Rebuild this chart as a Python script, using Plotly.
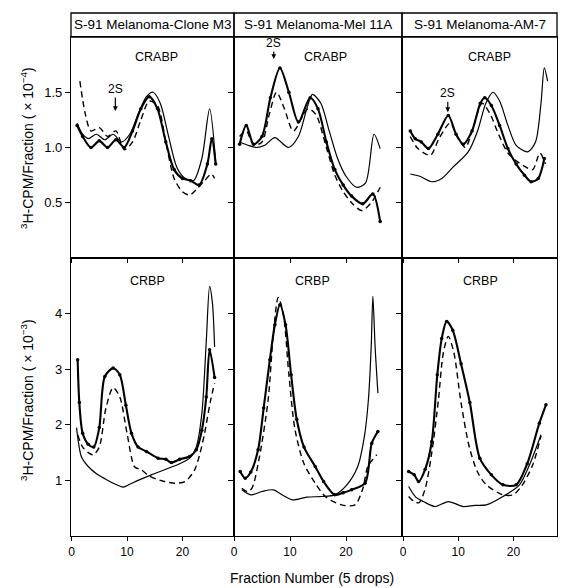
import plotly.graph_objects as go
from plotly.subplots import make_subplots

# ---------------- data ----------------
panel_titles = ["S-91 Melanoma-Clone M3", "S-91 Melanoma-Mel 11A", "S-91 Melanoma-AM-7"]
x_ticks = [0, 10, 20]
top_yticks = [0.5, 1.0, 1.5]
bot_yticks = [1, 2, 3, 4]

# Top row (CRABP, x10^-4)
m3_top_dot_x = [1, 2, 3.5, 5, 6.5, 8, 9.5, 11, 12.5, 14, 15.5, 17, 18.5, 20, 21.5, 23, 24.5, 25.3, 26]
m3_top_dot_y = [1.2, 1.1, 1.0, 1.06, 1.0, 1.07, 1.0, 1.15, 1.35, 1.46, 1.35, 1.05, 0.8, 0.72, 0.7, 0.66, 0.85, 1.08, 0.85]
m3_top_sol_x = [1, 2, 3, 4.5, 6, 7.5, 9, 10.5, 12, 13.5, 14.7, 16, 17.5, 19, 20.5, 22, 23.5, 24.9, 26]
m3_top_sol_y = [1.22, 1.12, 1.08, 1.12, 1.07, 1.12, 1.05, 1.12, 1.3, 1.46, 1.5, 1.4, 1.1, 0.82, 0.72, 0.7, 0.9, 1.35, 0.87]
m3_top_dash_x = [1.5, 2.5, 3.5, 5, 6.5, 8, 9.5, 11, 12.5, 14, 15.5, 17, 18.5, 20, 21.3, 22.5, 24, 25.2, 25.8]
m3_top_dash_y = [1.6, 1.3, 1.15, 1.18, 1.1, 1.15, 0.98, 1.05, 1.25, 1.42, 1.38, 1.05, 0.72, 0.6, 0.57, 0.62, 0.7, 0.76, 0.72]

m11_top_dot_x = [1, 2.2, 3.5, 5, 6.5, 8.2, 9.8, 11.5, 13.6, 15, 16.5, 18, 19.5, 21, 23, 24.8, 26.1]
m11_top_dot_y = [1.03, 1.2, 1.03, 1.1, 1.45, 1.72, 1.5, 1.23, 1.45, 1.35, 1.05, 0.8, 0.66, 0.56, 0.49, 0.58, 0.33]
m11_top_dash_x = [1, 2.2, 3.5, 5, 6.3, 7.6, 9, 10.6, 13.2, 14.6, 16.5, 18, 19.5, 21, 22.8, 24.5, 26.1]
m11_top_dash_y = [1.1, 1.15, 1.02, 1.05, 1.3, 1.5, 1.35, 1.15, 1.35, 1.3, 1.0, 0.75, 0.6, 0.5, 0.43, 0.5, 0.64]
m11_top_sol_x = [1, 2.5, 4, 5.5, 7.3, 9.7, 11.5, 13, 14, 15.5, 17, 18.5, 20, 21.9, 23.5, 25, 26.1]
m11_top_sol_y = [1.05, 1.02, 1.0, 1.02, 1.09, 1.0, 1.1, 1.35, 1.48, 1.4, 1.15, 0.9, 0.74, 0.64, 0.68, 1.12, 0.99]

am7_top_dot_x = [1.3, 2.2, 3.3, 4.6, 6.3, 8.2, 9.6, 10.9, 12.5, 14, 14.8, 16, 17.5, 19, 20.5, 22, 23.2, 24.5, 25.6]
am7_top_dot_y = [1.15, 1.08, 1.05, 0.99, 1.12, 1.29, 1.12, 1.03, 1.15, 1.4, 1.45, 1.38, 1.2, 0.99, 0.85, 0.75, 0.69, 0.72, 0.9]
am7_top_dash_x = [1.3, 2.5, 3.8, 5, 6.5, 8.5, 10, 11.3, 12.8, 14.3, 15.8, 17.3, 19, 20.5, 22, 23.5, 24.8, 25.8]
am7_top_dash_y = [1.1, 1.0, 0.95, 0.93, 1.08, 1.22, 1.08, 1.0, 1.2, 1.4, 1.3, 1.12, 0.95, 0.88, 0.83, 0.8, 0.95, 0.85]
am7_top_sol_x = [1.3, 3, 5.2, 7, 9, 11.8, 13.5, 15, 16.3, 17.5, 19, 20.5, 22.6, 24, 25, 25.6, 26.2]
am7_top_sol_y = [0.76, 0.74, 0.69, 0.72, 0.82, 0.96, 1.15, 1.4, 1.5, 1.42, 1.2, 1.02, 0.96, 1.05, 1.4, 1.72, 1.6]

# Bottom row (CRBP, x10^-3)
m3_bot_dot_x = [1.1, 1.4, 2, 3, 4, 5, 6, 7.5, 8.7, 9.8, 10.8, 12, 13.5, 15.6, 17, 18, 19.5, 21.3, 22.5, 23.5, 24.3, 24.9, 25.8]
m3_bot_dot_y = [3.17, 2.4, 1.85, 1.65, 1.6, 1.95, 2.87, 3.02, 2.9, 2.35, 1.85, 1.6, 1.52, 1.4, 1.38, 1.32, 1.38, 1.43, 1.55, 1.9, 2.5, 3.35, 2.85]
m3_bot_sol_x = [0.9, 1.8, 3, 4.5, 6, 7.5, 9.3, 10.5, 12, 14.4, 17, 19.5, 21.3, 22.5, 23.5, 24.3, 24.9, 25.4, 25.8]
m3_bot_sol_y = [1.95, 1.42, 1.25, 1.12, 1.03, 0.95, 0.88, 0.93, 1.0, 1.1, 1.2, 1.3, 1.4, 1.6, 2.2, 3.5, 4.49, 4.2, 3.4]
m3_bot_dash_x = [1.1, 2, 3, 3.9, 5, 6.2, 7.5, 8.7, 10, 11.4, 12.6, 14, 16, 18.6, 20.5, 22.2, 23.2, 24, 25, 25.8]
m3_bot_dash_y = [1.82, 1.6, 1.5, 1.46, 1.6, 2.3, 2.67, 2.5, 1.85, 1.24, 1.19, 1.08, 1.0, 0.95, 0.98, 1.19, 1.5, 1.85, 2.4, 2.75]

m11_bot_dot_x = [1.1, 2, 3, 4.3, 5.3, 6.4, 7.3, 8.2, 9.2, 10.2, 11.2, 12.5, 14.5, 16, 18, 19.5, 21, 23.4, 24.6, 25.7]
m11_bot_dot_y = [1.16, 1.04, 1.15, 1.55, 2.3, 3.17, 3.8, 4.16, 3.8, 2.9, 2.1, 1.6, 1.25, 0.98, 0.74, 0.78, 0.83, 0.95, 1.67, 1.88]
m11_bot_dash_x = [1.4, 2.4, 3.2, 4.5, 6.1, 7.0, 7.9, 8.8, 9.8, 10.9, 12.5, 14.5, 16.3, 19.2, 21.6, 23, 23.9, 25.5]
m11_bot_dash_y = [0.86, 0.8, 0.86, 1.4, 2.45, 3.6, 4.29, 4.0, 2.9, 1.91, 1.3, 0.95, 0.71, 0.56, 0.56, 0.85, 1.25, 1.46]
m11_bot_sol_x = [1.4, 3, 5, 7, 8.8, 10.5, 13, 15.7, 18, 20, 22.1, 23.3, 24, 24.5, 24.8, 25.2, 25.7]
m11_bot_sol_y = [0.83, 0.74, 0.8, 0.83, 0.73, 0.65, 0.7, 0.71, 0.74, 0.9, 1.25, 1.8, 2.45, 3.4, 4.31, 3.4, 2.57]

am7_bot_dot_x = [1, 2, 2.8, 4, 5.2, 6.2, 7, 7.9, 9, 10.5, 12.1, 13.9, 16, 18.1, 20.5, 22.5, 24.7, 25.9]
am7_bot_dot_y = [1.16, 1.1, 0.98, 1.2, 1.7, 2.9, 3.55, 3.86, 3.7, 3.1, 2.4, 1.4, 1.1, 0.92, 0.92, 1.3, 2.03, 2.36]
am7_bot_dash_x = [1, 2, 2.9, 4, 5.2, 6.4, 7.3, 8.2, 9.2, 10.5, 12, 13.5, 15.1, 18.1, 19.9, 21.5, 23.5, 25]
am7_bot_dash_y = [0.71, 0.62, 0.6, 0.85, 1.5, 2.45, 3.3, 3.59, 3.3, 2.4, 1.6, 1.15, 0.92, 0.74, 0.74, 0.9, 1.28, 1.8]
am7_bot_sol_x = [1, 2.3, 3.7, 5.8, 8.2, 10.9, 13, 15.1, 18.1, 21.1, 23, 25]
am7_bot_sol_y = [0.89, 0.7, 0.62, 0.53, 0.62, 0.53, 0.55, 0.56, 0.71, 0.92, 1.3, 1.82]

# ---------------- figure ----------------
W, H = 561, 588
L, R, T, B = 71, 4, 37, 52
pw, ph = W - L - R, H - T - B

fig = make_subplots(rows=2, cols=3, horizontal_spacing=0, vertical_spacing=0,
                    column_widths=[163, 168, 155], row_heights=[221, 278])

FONT = "Liberation Sans, Arial, sans-serif"
TXT = dict(family=FONT, size=12, color="black")

def add_curves(row, col, dot, sol, dash):
    fig.add_trace(go.Scatter(x=dash[0], y=dash[1], mode="lines",
                             line=dict(color="black", width=1.4, dash="6px,4px", shape="spline", smoothing=0.8),
                             showlegend=False, hoverinfo="skip"), row=row, col=col)
    fig.add_trace(go.Scatter(x=sol[0], y=sol[1], mode="lines",
                             line=dict(color="black", width=1.2, shape="spline", smoothing=0.8),
                             showlegend=False, hoverinfo="skip"), row=row, col=col)
    fig.add_trace(go.Scatter(x=dot[0], y=dot[1], mode="lines+markers",
                             line=dict(color="black", width=2.1, shape="spline", smoothing=0.8),
                             marker=dict(color="black", size=3.5),
                             showlegend=False, hoverinfo="skip"), row=row, col=col)

add_curves(1, 1, (m3_top_dot_x, m3_top_dot_y), (m3_top_sol_x, m3_top_sol_y), (m3_top_dash_x, m3_top_dash_y))
add_curves(1, 2, (m11_top_dot_x, m11_top_dot_y), (m11_top_sol_x, m11_top_sol_y), (m11_top_dash_x, m11_top_dash_y))
add_curves(1, 3, (am7_top_dot_x, am7_top_dot_y), (am7_top_sol_x, am7_top_sol_y), (am7_top_dash_x, am7_top_dash_y))
add_curves(2, 1, (m3_bot_dot_x, m3_bot_dot_y), (m3_bot_sol_x, m3_bot_sol_y), (m3_bot_dash_x, m3_bot_dash_y))
add_curves(2, 2, (m11_bot_dot_x, m11_bot_dot_y), (m11_bot_sol_x, m11_bot_sol_y), (m11_bot_dash_x, m11_bot_dash_y))
add_curves(2, 3, (am7_bot_dot_x, am7_bot_dot_y), (am7_bot_sol_x, am7_bot_sol_y), (am7_bot_dash_x, am7_bot_dash_y))

x_ranges = [[-0.1, 29.3], [0, 30], [-0.2, 27.9]]
for r in (1, 2):
    for c in (1, 2, 3):
        fig.update_xaxes(range=x_ranges[c - 1], tickvals=x_ticks, ticks="outside", ticklen=4,
                         tickcolor="black", showline=True, linecolor="black", linewidth=1.3,
                         mirror=True, showgrid=False, zeroline=False,
                         showticklabels=(r == 2),
                         tickfont=TXT, row=r, col=c)
        fig.update_yaxes(range=[0, 2.0] if r == 1 else [0, 5.0],
                         tickvals=top_yticks if r == 1 else bot_yticks,
                         ticktext=["0.5", "1.0", "1.5"] if r == 1 else ["1", "2", "3", "4"],
                         ticks="outside", ticklen=5, tickcolor="black",
                         showline=True, linecolor="black", linewidth=1.3, mirror=True,
                         showgrid=False, zeroline=False, showticklabels=(c == 1),
                         tickfont=dict(family=FONT, size=13, color="black"), row=r, col=c)

def py(p):
    return (H - B - p) / ph

def px(p):
    return (p - L) / pw

# header boxes
col_edges_px = [71, 234, 402, 557]
col_edges = [px(p) for p in col_edges_px]
hdr_top = py(13)
for i in range(3):
    fig.add_shape(type="rect", xref="paper", yref="paper", x0=col_edges[i], x1=col_edges[i + 1],
                  y0=1, y1=hdr_top, line=dict(color="black", width=1.3))
    fig.add_annotation(xref="paper", yref="paper", x=(col_edges[i] + col_edges[i + 1]) / 2,
                       y=py(25), text=panel_titles[i], showarrow=False,
                       font=dict(family=FONT, size=13.5, color="black"), xanchor="center", yanchor="middle")

for cx in (156, 325, 489):
    fig.add_annotation(xref="paper", yref="paper", x=px(cx), y=py(57), text="CRABP", showarrow=False,
                       font=dict(family=FONT, size=12.5, color="black"), xanchor="center", yanchor="middle")
for cx in (147, 312, 480):
    fig.add_annotation(xref="paper", yref="paper", x=px(cx), y=py(281), text="CRBP", showarrow=False,
                       font=dict(family=FONT, size=12.5, color="black"), xanchor="center", yanchor="middle")

# 2S arrows
for (xa, ya, xd, yd, ay) in [("x", "y", 7.9, 1.33, -22), ("x2", "y2", 7.1, 1.80, -16), ("x3", "y3", 8.1, 1.32, -19)]:
    fig.add_annotation(xref=xa, yref=ya, x=xd, y=yd, text="2S", showarrow=True, ax=0, ay=ay,
                       arrowhead=2, arrowsize=0.8, arrowwidth=1.2, arrowcolor="black",
                       font=TXT)

# axis titles
fig.add_annotation(xref="paper", yref="paper", x=px(27), y=py(148), textangle=-90,
                   xanchor="center", yanchor="middle",
                   text="<sup>3</sup>H-CPM/Fraction ( × 10<sup>−4</sup>)", showarrow=False,
                   font=dict(family=FONT, size=14, color="black"))
fig.add_annotation(xref="paper", yref="paper", x=px(27), y=py(400), textangle=-90,
                   xanchor="center", yanchor="middle",
                   text="<sup>3</sup>H-CPM/Fraction ( × 10<sup>−3</sup>)", showarrow=False,
                   font=dict(family=FONT, size=14, color="black"))
fig.add_annotation(xref="paper", yref="paper", x=px(312), y=py(578),
                   xanchor="center", yanchor="middle",
                   text="Fraction Number (5 drops)", showarrow=False,
                   font=dict(family=FONT, size=14, color="black"))

fig.update_layout(width=W, height=H, margin=dict(l=L, r=R, t=T, b=B),
                  paper_bgcolor="white", plot_bgcolor="white")

fig.write_html("out.html", config={"displayModeBar": False},
               post_script="document.body.style.margin='0';document.body.style.overflow='hidden';")
